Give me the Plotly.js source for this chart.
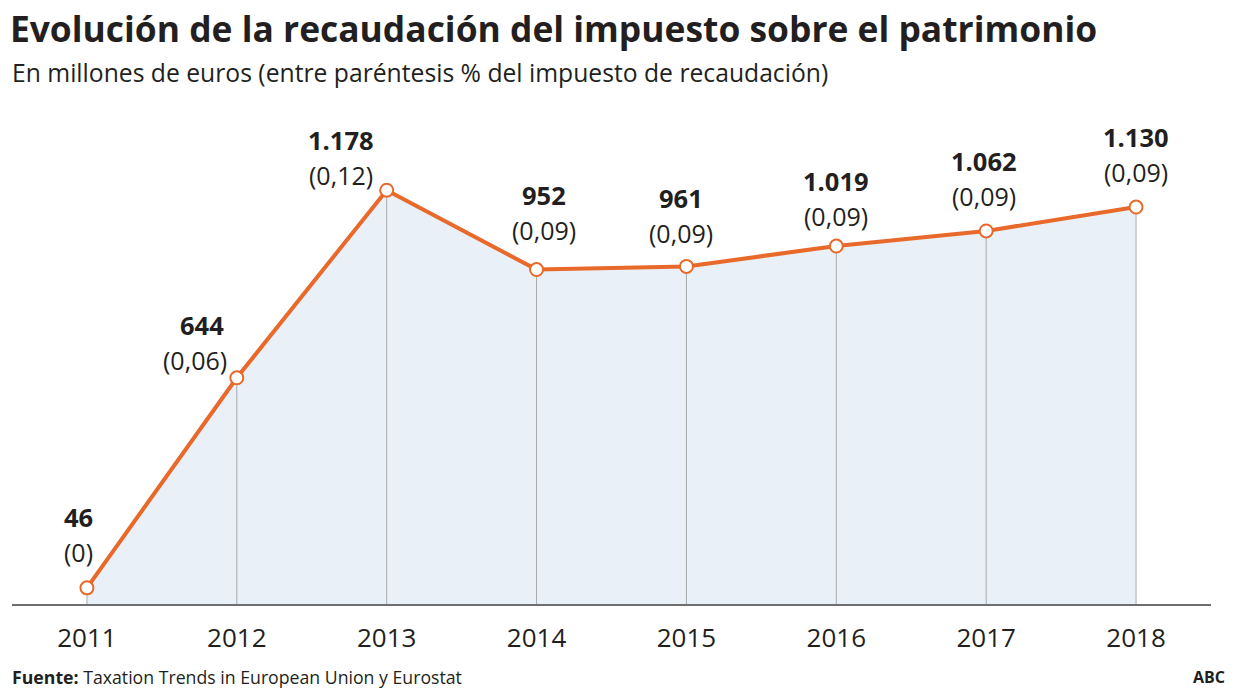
<!DOCTYPE html>
<html>
<head>
<meta charset="utf-8">
<script src="https://cdn.plot.ly/plotly-3.0.1.min.js"></script>
<style>html,body{margin:0;padding:0;background:#fff;}#chart{width:1240px;height:698px;}</style>
</head>
<body>
<div id="chart"></div>
<script>
const years = [2011, 2012, 2013, 2014, 2015, 2016, 2017, 2018];
const values = [46, 644, 1178, 952, 961, 1019, 1062, 1130];
const valueLabels = ["46", "644", "1.178", "952", "961", "1.019", "1.062", "1.130"];
const pctLabels = ["(0)", "(0,06)", "(0,12)", "(0,09)", "(0,09)", "(0,09)", "(0,09)", "(0,09)"];

// label offsets (pixels) relative to each point
const labelDx = [-8, -35, -46, 7, -5, 0, -2, 0];
const labelDy = [71, 53, 50, 75, 68, 65, 70, 70];

const ORANGE = '#e8692a';
const TEXT = '#231f20';
const FONT = 'Open Sans, sans-serif';

// vertical drop lines built from data
const vx = [], vy = [];
years.forEach((yr, i) => { vx.push(yr, yr, null); vy.push(0, values[i], null); });

const traces = [
  {x: years, y: values, type: 'scatter', mode: 'lines', fill: 'tozeroy',
   fillcolor: '#e9f0f7', line: {width: 0, color: 'rgba(0,0,0,0)'}, hoverinfo: 'skip'},
  {x: vx, y: vy, type: 'scatter', mode: 'lines', line: {color: '#a8abae', width: 1}, hoverinfo: 'skip'},
  {x: years, y: values, type: 'scatter', mode: 'lines+markers',
   line: {color: ORANGE, width: 4},
   marker: {size: 13, color: '#ffffff', line: {color: ORANGE, width: 2}}}
];

const annotations = [];
years.forEach((yr, i) => {
  annotations.push({x: yr, y: values[i], xref: 'x', yref: 'y', text: '<b>' + valueLabels[i] + '</b>',
    showarrow: false, xshift: labelDx[i], yshift: labelDy[i], xanchor: 'center', yanchor: 'middle',
    font: {family: FONT, size: 25.5, color: TEXT}});
  annotations.push({x: yr, y: values[i], xref: 'x', yref: 'y', text: pctLabels[i],
    showarrow: false, xshift: labelDx[i] - (i === 1 ? 7 : 0), yshift: labelDy[i] - 35, xanchor: 'center', yanchor: 'middle',
    font: {family: FONT, size: 25, color: TEXT}});
});
annotations.push({xref: 'paper', yref: 'paper', x: -0.002, y: 1.0536, xanchor: 'left', yanchor: 'middle',
  text: 'En millones de euros (entre paréntesis % del impuesto de recaudación)', showarrow: false,
  font: {family: FONT, size: 24.7, color: TEXT}});
annotations.push({xref: 'paper', yref: 'paper', x: -0.002, y: -0.1448, xanchor: 'left', yanchor: 'middle',
  text: '<b>Fuente:</b> Taxation Trends in European Union y Eurostat', showarrow: false,
  font: {family: FONT, size: 17.7, color: TEXT}});
annotations.push({xref: 'paper', yref: 'paper', x: 1.013, y: -0.1448, xanchor: 'right', yanchor: 'middle',
  text: '<b>ABC</b>', showarrow: false, font: {family: FONT, size: 16, color: TEXT}});

const layout = {
  width: 1240, height: 698,
  margin: {l: 12, r: 29, t: 100, b: 94},
  paper_bgcolor: '#ffffff', plot_bgcolor: '#ffffff',
  showlegend: false,
  title: {text: '<b>Evolución de la recaudación del impuesto sobre el patrimonio</b>',
    x: 0.008, xref: 'container', xanchor: 'left', y: 0.958, yref: 'container', yanchor: 'middle',
    font: {family: FONT, size: 35.4, color: TEXT}},
  xaxis: {range: [2010.5, 2018.5], tickvals: years, ticktext: years.map(String), showgrid: false, zeroline: false,
    showline: true, linecolor: '#6d6e70', linewidth: 2, ticks: '', ticklabelstandoff: 10,
    tickfont: {family: FONT, size: 26, color: TEXT}, fixedrange: true},
  yaxis: {range: [0, 1434.7], visible: false, showgrid: false, zeroline: false, fixedrange: true},
  annotations: annotations
};

Plotly.newPlot('chart', traces, layout, {displayModeBar: false, staticPlot: true});
</script>
</body>
</html>
